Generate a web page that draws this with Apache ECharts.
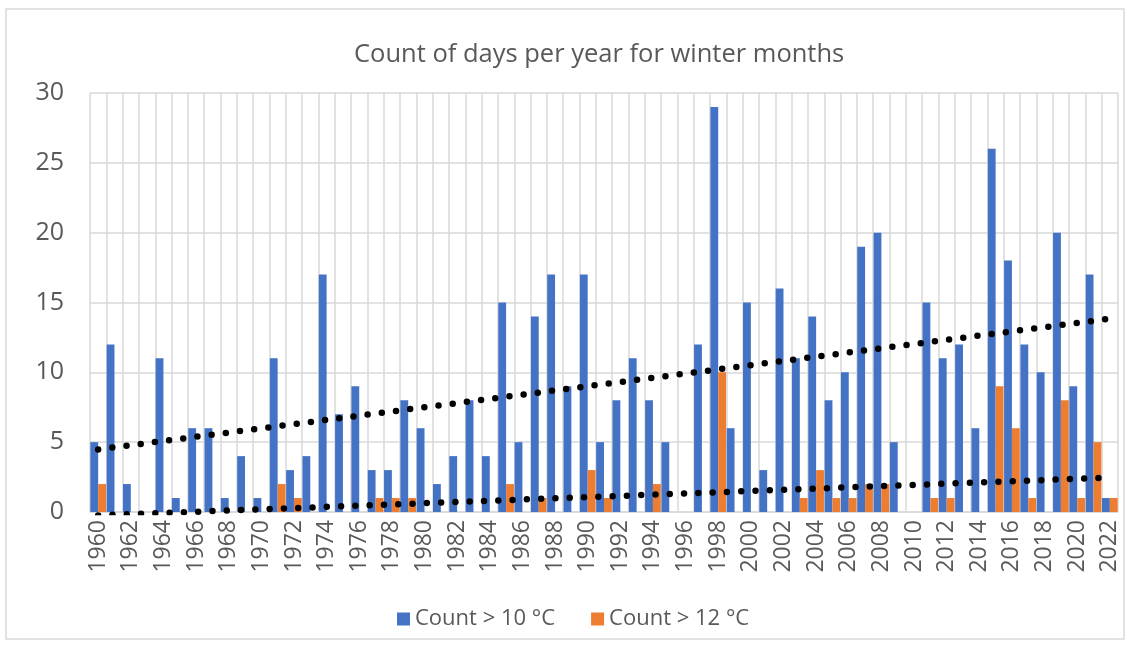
<!DOCTYPE html>
<html>
<head>
<meta charset="utf-8">
<script src="https://cdn.jsdelivr.net/npm/echarts@6/dist/echarts.min.js"></script>
<style>
  html, body { margin: 0; padding: 0; background: #fff; }
  .main { width: 1127px; height: 646px; }
</style>
</head>
<body>
<div class="main"></div>
<script>
let chartDom = document.querySelector('.main');
let myChart = echarts.init(chartDom);

// years 1960 - 2022
let years = [];
for (let y = 1960; y <= 2022; y++) {
    years.push(String(y));
}

// Count > 10 °C
let over10 = [
    5, 12, 2, 0, 11, 1, 6, 6, 1, 4,
    1, 11, 3, 4, 17, 7, 9, 3, 3, 8,
    6, 2, 4, 8, 4, 15, 5, 14, 17, 9,
    17, 5, 8, 11, 8, 5, 0, 12, 29, 6,
    15, 3, 16, 11, 14, 8, 10, 19, 20, 5,
    0, 15, 11, 12, 6, 26, 18, 12, 10, 20,
    9, 17, 1
];

// Count > 12 °C
let over12 = [
    2, 0, 0, 0, 0, 0, 0, 0, 0, 0,
    0, 2, 1, 0, 0, 0, 0, 1, 1, 1,
    0, 0, 0, 0, 0, 2, 0, 1, 0, 0,
    3, 1, 0, 0, 2, 0, 0, 0, 10, 0,
    0, 0, 0, 1, 3, 1, 1, 2, 2, 0,
    0, 1, 1, 0, 0, 9, 6, 1, 0, 8,
    1, 5, 1
];

let yTicks = [0, 5, 10, 15, 20, 25, 30];

// linear trendline, like Excel does it
function trend(arr) {
    let n = arr.length;
    let sx = 0, sy = 0, sxy = 0, sxx = 0;
    for (let i = 0; i < n; i++) {
        sx += i; sy += arr[i]; sxy += i * arr[i]; sxx += i * i;
    }
    let b = (n * sxy - sx * sy) / (n * sxx - sx * sx);
    let a = (sy - b * sx) / n;
    return arr.map((v, i) => +(a + b * i).toFixed(3));
}

let textColor = '#595959';
let gridColor = '#d9d9d9';
let font = 'Open Sans';

let dots = {
    color: '#000',
    width: 6.5,
    type: [0, 14.3],
    cap: 'round'
};

option = {
    backgroundColor: '#fff',
    animation: false,
    textStyle: { fontFamily: font },
    title: {
        text: 'Count of days per year for winter months',
        left: 349,
        top: 37,
        textStyle: { color: textColor, fontSize: 25.5, fontWeight: 'normal', fontFamily: font }
    },
    graphic: [{
        type: 'rect',
        shape: { x: 6, y: 9, width: 1118, height: 630 },
        style: { fill: 'none', stroke: gridColor, lineWidth: 1.5 },
        silent: true
    }],
    legend: {
        data: ['Count > 10 °C', 'Count > 12 °C'],
        bottom: 11,
        left: 392,
        itemWidth: 13,
        itemHeight: 13,
        itemGap: 36,
        icon: 'rect',
        textStyle: { color: textColor, fontSize: 22, fontFamily: font }
    },
    grid: {
        left: 90,
        right: 9,
        top: 93,
        bottom: 134,
        containLabel: false
    },
    xAxis: {
        type: 'category',
        data: years,
        axisLine: { lineStyle: { color: gridColor, width: 1.5 } },
        axisTick: { show: false },
        axisLabel: {
            interval: 1,
            rotate: 90,
            color: textColor,
            fontSize: 23,
            margin: 8,
            fontFamily: font
        },
        splitLine: { show: true, interval: 0, lineStyle: { color: gridColor, width: 1.5 } }
    },
    yAxis: {
        type: 'value',
        min: 0,
        max: 30,
        interval: 5,
        axisLine: { show: false },
        axisTick: { show: false },
        axisLabel: {
            color: textColor,
            fontSize: 25,
            margin: 26,
            fontFamily: font,
            formatter: v => yTicks.includes(v) ? String(v) : ''
        },
        splitLine: { lineStyle: { color: gridColor, width: 1.5 } }
    },
    series: [
        {
            name: 'Count > 10 °C',
            type: 'bar',
            data: over10,
            barGap: '0%',
            barCategoryGap: '4%',
            itemStyle: { color: '#4472C4' }
        },
        {
            name: 'Count > 12 °C',
            type: 'bar',
            data: over12,
            itemStyle: { color: '#ED7D31' }
        },
        {
            name: 'trend10',
            type: 'line',
            data: trend(over10),
            symbol: 'none',
            silent: true,
            z: 5,
            lineStyle: dots
        },
        {
            name: 'trend12',
            type: 'line',
            data: trend(over12),
            symbol: 'none',
            silent: true,
            z: 5,
            clip: true,
            lineStyle: dots
        }
    ]
};

option && myChart.setOption(option);
</script>
</body>
</html>
